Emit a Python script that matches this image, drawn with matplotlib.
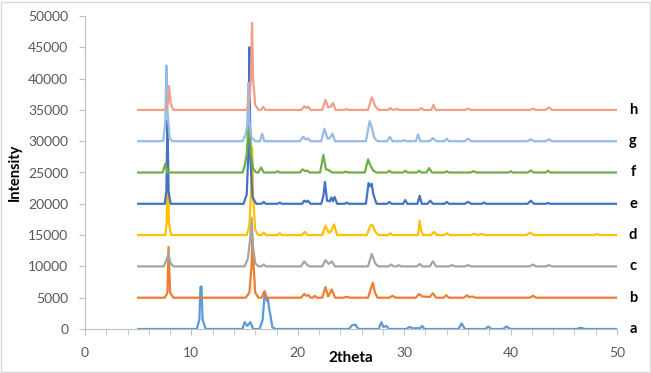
import matplotlib.pyplot as plt
from matplotlib.patches import Rectangle
from matplotlib.ticker import MultipleLocator
import numpy as np

plt.rcParams['font.family'] = ['Lato', 'DejaVu Sans']

# XRD patterns: (2theta, intensity above the series baseline)
pattern_a = [(5, 0), (10.5, 0), (10.75, 1500), (10.85, 6700), (10.95, 6800), (11.05, 1500), (11.35, 0),
             (14.8, 0), (15.0, 1100), (15.25, 500), (15.55, 1100), (15.8, 0),
             (16.4, 0), (16.7, 1500), (16.9, 6000), (17.1, 4500), (17.2, 4800), (17.3, 3300), (17.45, 2000),
             (17.6, 300), (17.9, 0),
             (24.8, 0), (25.1, 600), (25.4, 700), (25.7, 0),
             (27.6, 0), (27.85, 1100), (28.05, 300), (28.3, 500), (28.6, 0),
             (30.2, 0), (30.5, 350), (30.8, 100), (31.5, 150), (31.7, 500), (31.9, 0),
             (35.1, 0), (35.4, 900), (35.7, 0),
             (37.6, 0), (37.9, 400), (38.2, 0),
             (39.3, 0), (39.6, 400), (40.0, 0),
             (46.2, 0), (46.6, 200), (47.0, 0), (50, 0)]

pattern_b = [(5, 0), (7.5, 0), (7.75, 800), (7.85, 8100), (8.0, 800), (8.3, 0),
             (15.1, 0), (15.45, 800), (15.65, 5000), (15.75, 9500), (15.85, 5000), (16.0, 800), (16.3, 0),
             (16.6, 0), (16.85, 1000), (17.1, 0),
             (20.3, 0), (20.6, 600), (20.8, 300), (21.0, 400), (21.2, 0), (21.4, 0), (21.6, 300), (21.8, 0),
             (22.3, 0), (22.6, 1700), (22.85, 200), (23.2, 1300), (23.5, 0),
             (24.3, 0), (24.6, 150), (24.9, 0),
             (26.6, 0), (26.9, 1600), (27.05, 2400), (27.25, 800), (27.5, 0),
             (28.6, 0), (28.9, 300), (29.2, 0),
             (31.1, 0), (31.4, 600), (31.7, 200), (32.4, 100), (32.7, 700), (33.0, 0),
             (33.7, 0), (33.95, 400), (34.2, 0),
             (35.6, 0), (35.9, 400), (36.1, 100), (36.4, 200), (36.7, 0),
             (41.8, 0), (42.1, 300), (42.4, 0), (50, 0)]

pattern_c = [(5, 0), (7.4, 0), (7.7, 1200), (7.85, 2100), (8.0, 600), (8.3, 0),
             (15.0, 0), (15.3, 1200), (15.5, 4000), (15.65, 7800), (15.8, 3000), (16.0, 500), (16.3, 0),
             (16.6, 0), (16.8, 300), (17.0, 0),
             (20.3, 0), (20.6, 800), (20.9, 200), (21.1, 0),
             (22.3, 0), (22.6, 1000), (22.9, 400), (23.2, 800), (23.5, 0),
             (26.6, 0), (26.95, 2000), (27.3, 400), (27.6, 0),
             (28.5, 0), (28.8, 300), (29.0, 0), (29.3, 0), (29.5, 200), (29.7, 0),
             (31.2, 0), (31.45, 400), (31.7, 0),
             (32.4, 0), (32.7, 800), (33.0, 0),
             (34.2, 0), (34.5, 200), (34.8, 0),
             (35.7, 0), (36.0, 200), (36.3, 0),
             (41.8, 0), (42.1, 300), (42.4, 0),
             (43.3, 0), (43.6, 200), (43.9, 0), (50, 0)]

pattern_d = [(5, 0), (7.55, 0), (7.68, 2000), (7.78, 14400), (7.88, 2000), (8.1, 0),
             (15.2, 0), (15.45, 1500), (15.6, 7000), (15.7, 14000), (15.8, 6000), (16.0, 800), (16.3, 0),
             (16.6, 0), (16.8, 400), (17.0, 0),
             (18.1, 0), (18.3, 300), (18.5, 0),
             (20.4, 0), (20.65, 500), (20.9, 0),
             (22.3, 0), (22.6, 1500), (22.9, 400), (23.1, 500), (23.4, 1700), (23.7, 0),
             (26.5, 0), (26.8, 1500), (27.0, 1600), (27.3, 500), (27.6, 0),
             (28.5, 0), (28.7, 300), (28.9, 0),
             (31.3, 0), (31.45, 2300), (31.6, 600), (31.8, 0),
             (32.5, 0), (32.8, 500), (33.1, 0),
             (33.8, 0), (34.0, 300), (34.3, 0),
             (36.3, 0), (36.6, 200), (36.9, 0), (37.3, 200), (37.6, 0),
             (41.5, 0), (41.8, 400), (42.2, 0),
             (47.8, 0), (48.1, 150), (48.4, 0), (50, 0)]

pattern_e = [(5, 0), (7.5, 0), (7.65, 2000), (7.75, 13400), (7.85, 2000), (8.05, 0),
             (14.9, 0), (15.2, 1500), (15.35, 8000), (15.45, 25000), (15.55, 7000), (15.75, 1000), (16.1, 0),
             (16.6, 0), (16.8, 300), (17.0, 0),
             (18.1, 0), (18.3, 200), (18.5, 0),
             (20.4, 0), (20.6, 500), (20.8, 300), (20.95, 500), (21.2, 0),
             (22.2, 0), (22.4, 1200), (22.55, 3500), (22.75, 500), (23.0, 400), (23.15, 1000), (23.3, 400),
             (23.45, 1100), (23.7, 0),
             (24.4, 0), (24.6, 200), (24.8, 0),
             (26.4, 0), (26.65, 3300), (26.8, 2800), (26.95, 3200), (27.1, 1500), (27.4, 0),
             (28.4, 0), (28.6, 300), (28.8, 0),
             (29.9, 0), (30.1, 600), (30.3, 0),
             (31.25, 0), (31.45, 1300), (31.65, 0),
             (32.2, 0), (32.45, 500), (32.7, 0),
             (33.8, 0), (34.0, 300), (34.2, 0),
             (35.7, 0), (36.0, 300), (36.3, 0),
             (37.3, 0), (37.5, 200), (37.7, 0),
             (41.6, 0), (41.9, 500), (42.2, 0),
             (43.3, 0), (43.5, 150), (43.7, 0), (50, 0)]

pattern_f = [(5, 0), (7.3, 0), (7.55, 1400), (7.75, 0),
             (14.8, 0), (15.0, 1000), (15.2, 3000), (15.35, 7000), (15.45, 8000), (15.6, 3000), (15.8, 600),
             (16.1, 0),
             (16.3, 0), (16.55, 800), (16.8, 0),
             (17.9, 0), (18.1, 200), (18.3, 0),
             (20.2, 0), (20.45, 500), (20.7, 200), (20.9, 300), (21.1, 0),
             (22.1, 0), (22.4, 2800), (22.65, 500), (22.9, 400), (23.2, 0),
             (24.3, 0), (24.5, 150), (24.7, 0),
             (26.3, 0), (26.6, 2100), (26.8, 1200), (27.1, 300), (27.4, 0),
             (28.4, 0), (28.6, 300), (28.8, 0),
             (29.9, 0), (30.1, 300), (30.3, 0),
             (31.2, 0), (31.4, 300), (31.6, 0),
             (32.1, 0), (32.35, 700), (32.6, 0),
             (33.8, 0), (34.0, 200), (34.2, 0),
             (36.2, 0), (36.5, 200), (36.8, 0),
             (39.8, 0), (40.0, 200), (40.2, 0),
             (41.6, 0), (41.9, 300), (42.2, 0),
             (43.3, 0), (43.5, 300), (43.7, 0), (50, 0)]

pattern_g = [(5, 0), (7.35, 0), (7.55, 3000), (7.65, 12100), (7.75, 5000), (7.95, 500), (8.2, 0),
             (14.8, 0), (15.1, 1000), (15.25, 2500), (15.35, 9300), (15.45, 3000), (15.65, 600), (16.0, 0),
             (16.45, 0), (16.65, 1200), (16.85, 0),
             (20.2, 0), (20.5, 700), (20.75, 300), (21.0, 400), (21.2, 0),
             (22.2, 0), (22.5, 2000), (22.8, 400), (23.0, 500), (23.25, 1200), (23.5, 0),
             (26.4, 0), (26.75, 3200), (26.95, 2200), (27.2, 500), (27.5, 0),
             (28.4, 0), (28.65, 700), (28.9, 0),
             (29.8, 0), (30.0, 200), (30.2, 0),
             (31.1, 0), (31.3, 1100), (31.5, 0),
             (32.4, 0), (32.7, 500), (33.0, 0),
             (33.8, 0), (34.0, 400), (34.2, 0),
             (35.7, 0), (36.0, 400), (36.3, 0),
             (41.6, 0), (41.9, 300), (42.2, 0),
             (43.3, 0), (43.6, 300), (43.9, 0), (50, 0)]

pattern_h = [(5, 0), (7.6, 0), (7.8, 1200), (7.9, 3800), (8.05, 1000), (8.3, 0),
             (15.2, 0), (15.45, 1200), (15.6, 5000), (15.7, 13900), (15.8, 5000), (16.0, 800), (16.3, 0),
             (16.55, 0), (16.75, 500), (16.95, 0),
             (20.35, 0), (20.6, 600), (20.8, 300), (21.0, 500), (21.2, 0),
             (22.3, 0), (22.6, 1600), (22.85, 400), (23.1, 500), (23.3, 1100), (23.55, 0),
             (24.4, 0), (24.6, 150), (24.8, 0),
             (26.6, 0), (26.95, 2000), (27.3, 500), (27.6, 0),
             (28.5, 0), (28.7, 300), (28.9, 0),
             (29.1, 0), (29.3, 200), (29.5, 0),
             (31.4, 0), (31.6, 300), (31.8, 0),
             (32.55, 0), (32.75, 800), (32.95, 0),
             (35.7, 0), (36.0, 200), (36.3, 0),
             (41.8, 0), (42.1, 200), (42.4, 0),
             (43.3, 0), (43.6, 400), (43.9, 0), (50, 0)]

names = ['a', 'b', 'c', 'd', 'e', 'f', 'g', 'h']
patterns = [pattern_a, pattern_b, pattern_c, pattern_d, pattern_e, pattern_f, pattern_g, pattern_h]
offsets = [0, 5000, 10000, 15000, 20000, 25000, 30000, 35000]
colors = ['#5B9BD5', '#ED7D31', '#A5A5A5', '#FFC000', '#4472C4', '#70AD47', '#95BBE6', '#F29E88']

fig = plt.figure(figsize=(6.51, 3.73), dpi=100)
ax = fig.add_axes([85 / 651, 1 - 329 / 373, 532 / 651, 313 / 373])

for name, pts, off, col in zip(names, patterns, offsets, colors):
    arr = np.array(pts, dtype=float)
    ax.plot(arr[:, 0], arr[:, 1] + off, color=col, lw=1.6, solid_joinstyle='round')
    ax.text(51.5, off, name, fontsize=10.5, fontweight='bold', ha='center', va='center', clip_on=False)

ax.set_xlim(0, 50)
ax.set_ylim(0, 50000)
ax.xaxis.set_major_locator(MultipleLocator(10))
ax.xaxis.set_minor_locator(MultipleLocator(2))
ax.yaxis.set_major_locator(MultipleLocator(5000))

ax.spines['right'].set_visible(False)
ax.spines['top'].set_visible(False)
ax.spines['left'].set_color('#BFBFBF')
ax.spines['bottom'].set_color('#BFBFBF')
ax.tick_params(axis='both', which='both', direction='out', length=4, color='#BFBFBF',
               labelcolor='#595959', labelsize=10)
ax.tick_params(axis='x', which='major', pad=9)
ax.tick_params(axis='y', which='major', pad=8)

fig.text(351 / 651, 1 - 358 / 373, '2theta', fontsize=11, fontweight='bold', ha='center', va='center')
fig.text(15 / 651, 1 - 172 / 373, 'Intensity', fontsize=10.5, fontweight='bold', rotation=90,
         ha='center', va='center')

# chart border
fig.patches.append(Rectangle((0.5 / 651, 1.5 / 373), 649.5 / 651, 370 / 373, transform=fig.transFigure,
                             fill=False, edgecolor='#D9D9D9', lw=1))

fig.savefig('out.png', dpi=100)
